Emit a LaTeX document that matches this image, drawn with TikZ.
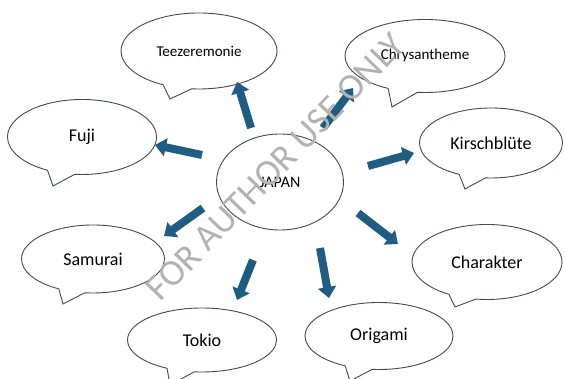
\documentclass[tikz,border=0pt]{standalone}
\usepackage{fontspec}
\setmainfont{Carlito}
\usetikzlibrary{shapes.callouts, shapes.geometric, arrows.meta}
\definecolor{arrowblue}{RGB}{31,94,130}
\definecolor{rimgray}{RGB}{62,74,84}

\begin{document}
\begin{tikzpicture}[x=1pt, y=-1pt,
  bubble/.style={ellipse callout, draw=rimgray, line width=0.9pt, fill=white,
    inner sep=0pt, callout pointer arc=22, font=\fontsize{18}{18}\selectfont},
  smalltext/.style={font=\fontsize{15}{15}\selectfont},
  fatarrow/.style={draw=arrowblue, line width=8pt,
    -{Triangle[length=11pt,width=18pt]}}]
  \useasboundingbox (0,0) rectangle (565,379);

  % centre circle
  \node[ellipse, draw=rimgray, line width=0.9pt, minimum width=127pt,
        minimum height=96pt, font=\fontsize{16}{16}\selectfont] (japan) at (280,182) {JAPAN};

  % speech bubbles round the centre
  \node[bubble, smalltext, minimum width=156pt, minimum height=76pt,
        callout absolute pointer={(170,99)}] (tee) at (199,51) {Teezeremonie};
  \node[bubble, smalltext, minimum width=160pt, minimum height=73pt,
        callout absolute pointer={(392,107)}] (chrys) at (425,56) {Chrysantheme};
  \node[bubble, minimum width=149pt, minimum height=75pt,
        callout absolute pointer={(53,186)}] (fuji) at (82,137) {Fuji};
  \node[bubble, minimum width=143pt, minimum height=70pt,
        callout absolute pointer={(465,189)}] (kirsch) at (491,143) {Kirschblüte};
  \node[bubble, minimum width=143pt, minimum height=68pt,
        callout absolute pointer={(63,304)}] (samurai) at (93,259) {Samurai};
  \node[bubble, minimum width=150pt, minimum height=75pt,
        callout absolute pointer={(455,307)}] (charakter) at (487,262) {Charakter};
  \node[bubble, minimum width=149pt, minimum height=64pt,
        callout absolute pointer={(170,385)}] (tokio) at (202,340) {Tokio};
  \node[bubble, minimum width=148pt, minimum height=67pt,
        callout absolute pointer={(350,381)}] (origami) at (379,336) {Origami};

  % arrow ends (arrows stop short of the bubbles)
  \coordinate (tee-s) at (251,128);     \coordinate (tee-e) at (237,82);
  \coordinate (chrys-s) at (323,128);   \coordinate (chrys-e) at (353,88);
  \coordinate (fuji-s) at (202,155);    \coordinate (fuji-e) at (155,145);
  \coordinate (kirsch-s) at (368,166);  \coordinate (kirsch-e) at (414,153);
  \coordinate (samurai-s) at (203,208); \coordinate (samurai-e) at (164,236);
  \coordinate (char-s) at (358,213);    \coordinate (char-e) at (398,244);
  \coordinate (tokio-s) at (253,260);   \coordinate (tokio-e) at (237,300);
  \coordinate (origami-s) at (320,248); \coordinate (origami-e) at (329,298);

  % block arrows
  \draw[fatarrow] (tee-s) -- (tee-e);
  \draw[fatarrow] (chrys-s) -- (chrys-e);
  \draw[fatarrow] (fuji-s) -- (fuji-e);
  \draw[fatarrow] (kirsch-s) -- (kirsch-e);
  \draw[fatarrow] (samurai-s) -- (samurai-e);
  \draw[fatarrow] (char-s) -- (char-e);
  \draw[fatarrow] (tokio-s) -- (tokio-e);
  \draw[fatarrow] (origami-s) -- (origami-e);

  % watermark across the picture
  \node[rotate=46, text=black!30, font=\fontsize{37}{37}\selectfont]
        (mark) at (275,167) {FOR AUTHOR USE ONLY};
\end{tikzpicture}
\end{document}
